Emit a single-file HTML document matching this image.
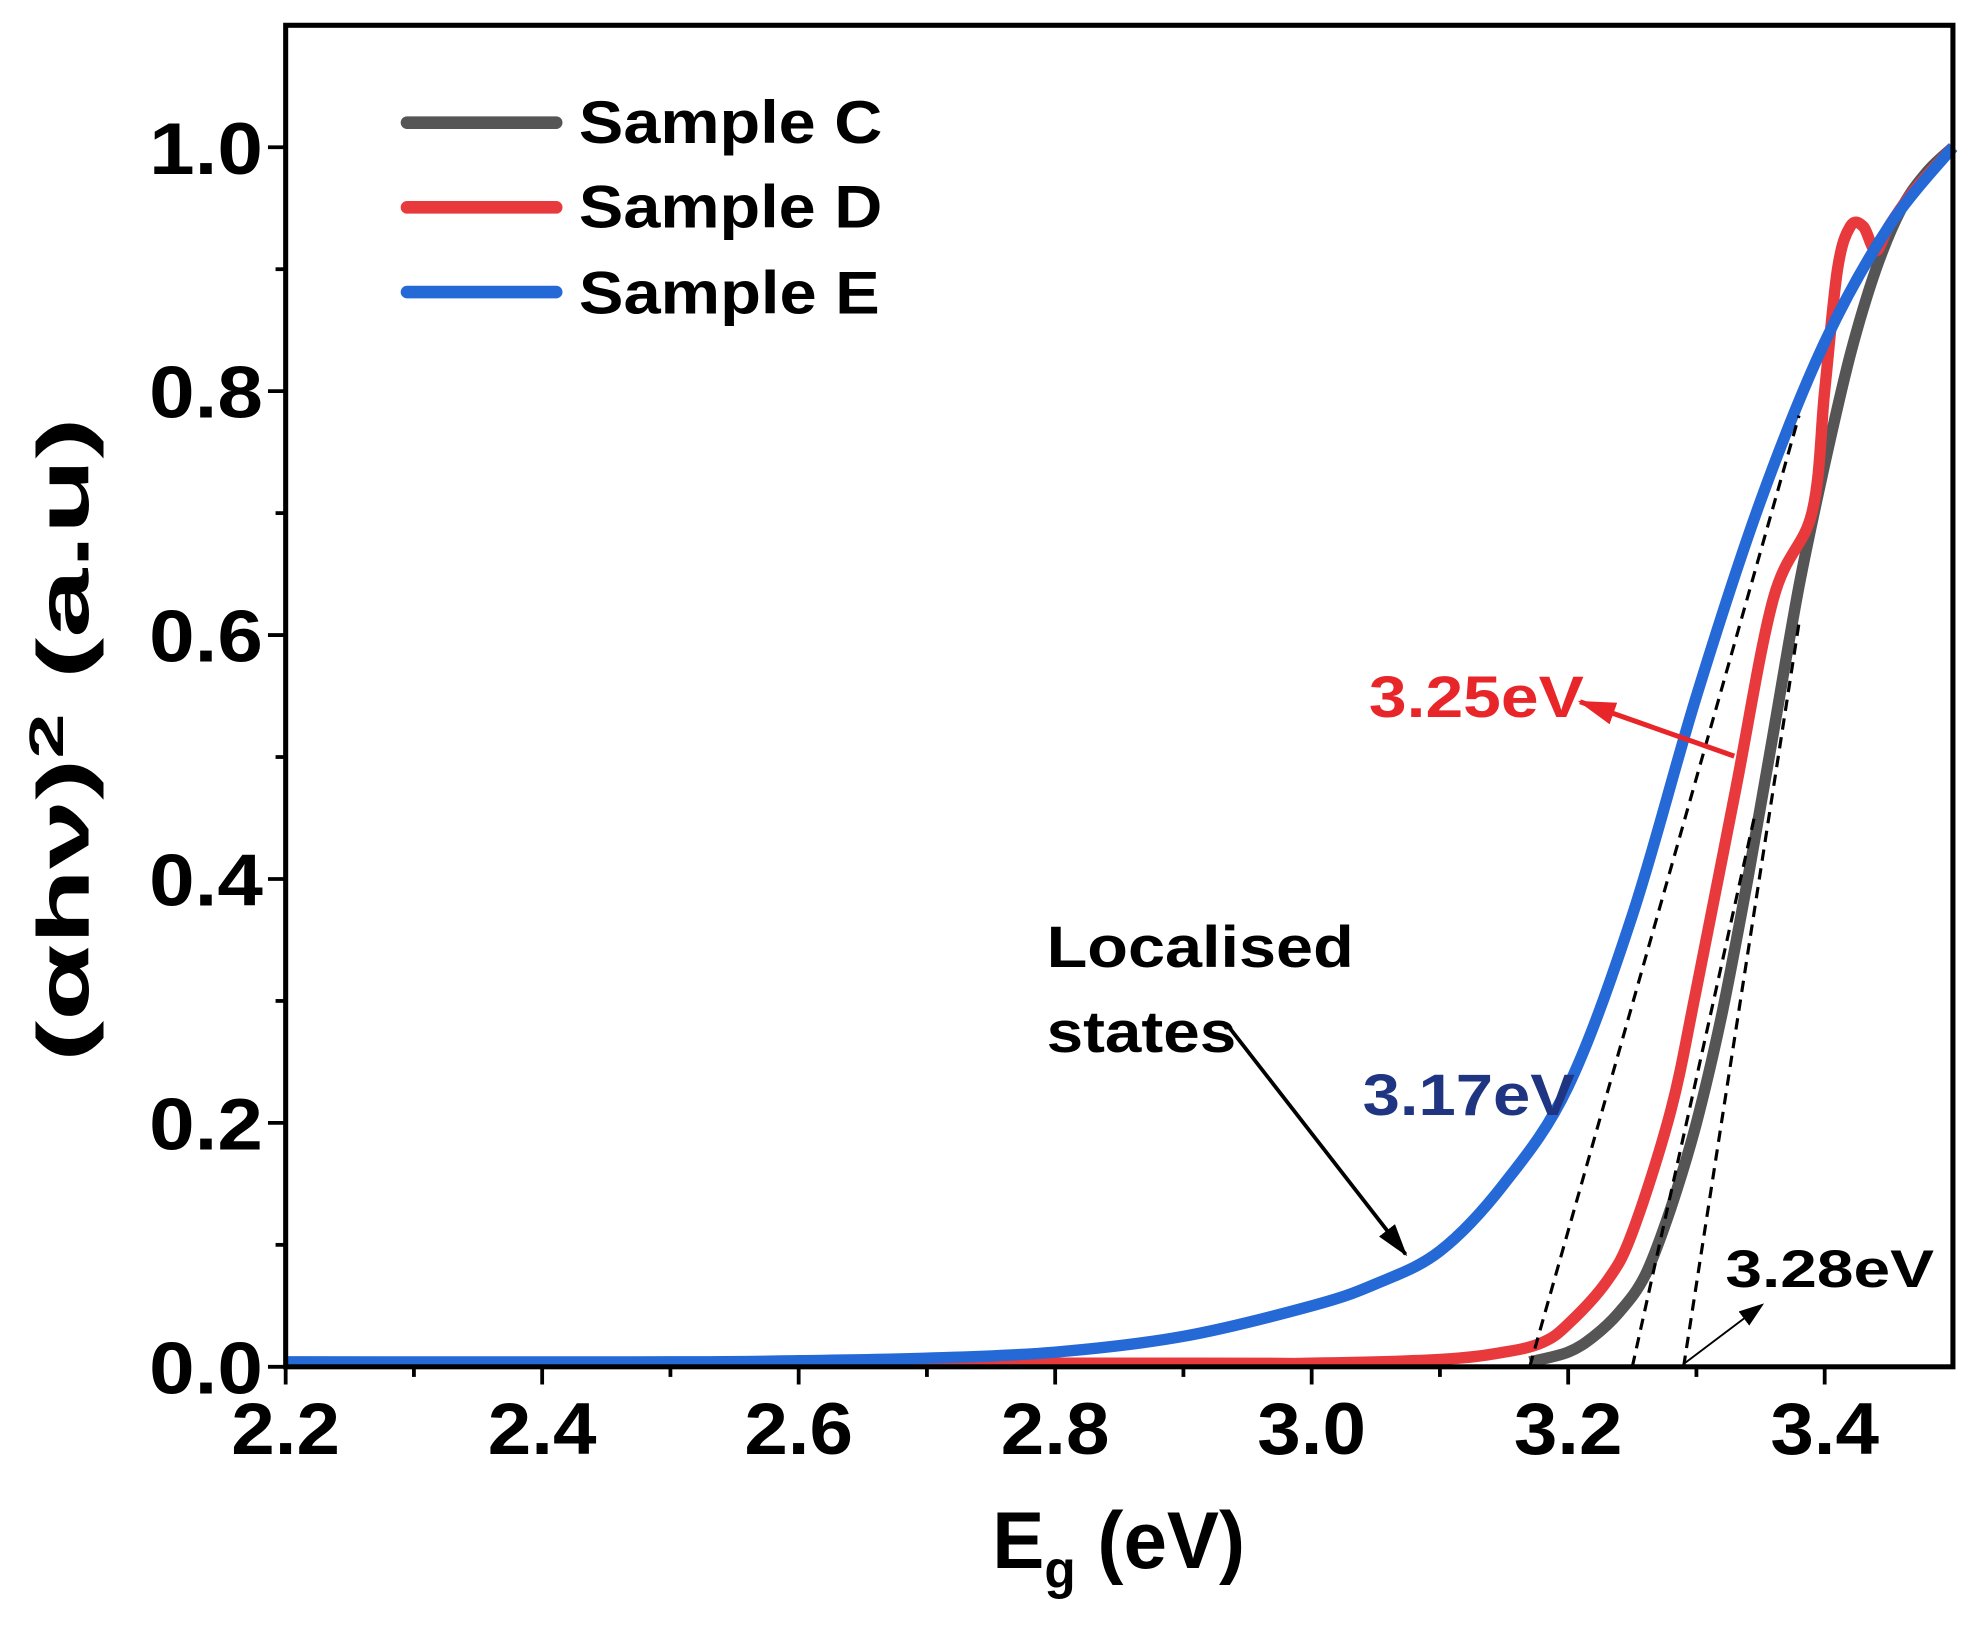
<!DOCTYPE html>
<html><head><meta charset="utf-8"><style>
html,body{margin:0;padding:0;background:#fff}
svg{display:block}
text{font-family:"Liberation Sans",Arial,sans-serif;font-weight:bold}
</style></head><body>
<svg id="chart" width="1982" height="1626" viewBox="0 0 1568 1286" preserveAspectRatio="none" xmlns="http://www.w3.org/2000/svg">
<defs>
<marker id="ahb" markerWidth="26" markerHeight="20" refX="24" refY="10" orient="auto" markerUnits="userSpaceOnUse"><path d="M0,2 L26,10 L0,18 z" fill="#000"/></marker>
<marker id="ahr" markerWidth="30" markerHeight="22" refX="28" refY="11" orient="auto" markerUnits="userSpaceOnUse"><path d="M0,2 L30,11 L0,20 z" fill="#e8262a"/></marker>
<marker id="ahs" markerWidth="20" markerHeight="16" refX="18" refY="8" orient="auto" markerUnits="userSpaceOnUse"><path d="M0,1 L20,8 L0,15 z" fill="#000"/></marker>
</defs>
<g id="plot"></g>
<g id="ann">
<rect x="226" y="20" width="1319" height="1061" fill="none" stroke="#000" stroke-width="4"/>
<line x1="322" y1="97" x2="440" y2="97" stroke="#555" stroke-width="10" stroke-linecap="round"/>
<text x="458" y="113" font-size="48" textLength="240" lengthAdjust="spacingAndGlyphs">Sample C</text>
<line x1="322" y1="164" x2="440" y2="164" stroke="#e8393d" stroke-width="10" stroke-linecap="round"/>
<text x="458" y="180" font-size="48" textLength="240" lengthAdjust="spacingAndGlyphs">Sample D</text>
<line x1="322" y1="231" x2="440" y2="231" stroke="#2469d6" stroke-width="10" stroke-linecap="round"/>
<text x="458" y="248" font-size="48" textLength="238" lengthAdjust="spacingAndGlyphs">Sample E</text>
<text x="828" y="765" font-size="46" textLength="243" lengthAdjust="spacingAndGlyphs">Localised</text>
<text x="828" y="832" font-size="46" textLength="150" lengthAdjust="spacingAndGlyphs">states</text>
<line x1="972" y1="812" x2="1112" y2="992" stroke="#000" stroke-width="3" marker-end="url(#ahb)"/>
<text x="1078" y="882" font-size="46" fill="#1f3582" textLength="168" lengthAdjust="spacingAndGlyphs">3.17eV</text>
<text x="1083" y="567" font-size="46" fill="#e8262a" textLength="170" lengthAdjust="spacingAndGlyphs">3.25eV</text>
<line x1="1372" y1="598" x2="1250" y2="555" stroke="#e8262a" stroke-width="4" marker-end="url(#ahr)"/>
<text x="1365" y="1018" font-size="42" textLength="165" lengthAdjust="spacingAndGlyphs">3.28eV</text>
<line x1="1333" y1="1078" x2="1394" y2="1032" stroke="#000" stroke-width="1.5" marker-end="url(#ahs)"/>
<text x="885" y="1240" font-size="64" text-anchor="middle" textLength="200" lengthAdjust="spacingAndGlyphs">E<tspan font-size="42" dy="16">g</tspan><tspan dy="-16"> (eV)</tspan></text>
<text transform="translate(70,585) rotate(-90)" font-size="58" text-anchor="middle" textLength="510" lengthAdjust="spacingAndGlyphs">(αhν)<tspan font-size="38" dy="-20">2</tspan><tspan dy="20"> (a.u)</tspan></text>
</g>
</svg>
<script>
const xTicks=[2.2,2.4,2.6,2.8,3.0,3.2,3.4];
const xTickLabels=["2.2","2.4","2.6","2.8","3.0","3.2","3.4"];
const yTicks=[0,0.2,0.4,0.6,0.8,1.0];
const yTickLabels=["0.0","0.2","0.4","0.6","0.8","1.0"];
const xE=[2.2,2.5,2.6,2.7,2.8,2.9,3.0,3.05,3.1,3.15,3.2,3.25,3.3,3.35,3.4,3.45,3.5];
const yE=[0.004,0.004,0.005,0.007,0.012,0.025,0.05,0.068,0.095,0.15,0.23,0.37,0.55,0.71,0.84,0.935,1.0];
const xD=[2.2,2.9,3.0,3.1,3.15,3.18,3.2,3.23,3.25,3.28,3.3,3.33,3.36,3.39,3.4,3.41,3.42,3.43,3.44,3.45,3.47,3.5];
const yD=[0.003,0.003,0.003,0.006,0.012,0.02,0.035,0.07,0.11,0.21,0.31,0.47,0.63,0.7,0.8,0.9,0.935,0.935,0.915,0.935,0.965,1.0];
const xC=[3.17,3.2,3.22,3.24,3.26,3.28,3.3,3.32,3.34,3.36,3.38,3.4,3.42,3.44,3.46,3.48,3.5];
const yC=[0.004,0.012,0.025,0.045,0.075,0.13,0.2,0.29,0.4,0.52,0.64,0.74,0.83,0.9,0.95,0.98,1.0];
const tangentE=[[3.17,0],[3.38,0.78]];
const tangentD=[[3.25,0],[3.345,0.45]];
const tangentC=[[3.29,0],[3.38,0.61]];
const L=226,R=1545,T=20,B=1081,X0=2.2,X1=3.5,Y0=0,Y1=1.1;
const sx=v=>L+(v-X0)/(X1-X0)*(R-L);
const sy=v=>B-(v-Y0)/(Y1-Y0)*(B-T);
const NS="http://www.w3.org/2000/svg";
const g=document.getElementById('plot');
function mk(t,a){const e=document.createElementNS(NS,t);for(const k in a)e.setAttribute(k,a[k]);g.appendChild(e);return e;}
for(let i=0;i<13;i++){const v=2.2+i*0.1;const major=i%2===0;
 const t=mk('line',{x1:sx(v),x2:sx(v),y1:B,y2:B+(major?14:8),stroke:'#000','stroke-width':3});
 
 }
xTicks.forEach((v,i)=>{const t=mk('text',{x:sx(v),y:1150,'font-size':58,'text-anchor':'middle',textLength:86,lengthAdjust:'spacingAndGlyphs'});t.textContent=xTickLabels[i];
 
 });
for(let i=0;i<=10;i++){const v=i*0.1;const major=i%2===0;
 const t=mk('line',{x1:L-(major?14:8),x2:L,y1:sy(v),y2:sy(v),stroke:'#000','stroke-width':3});
 
 }
yTicks.forEach((v,i)=>{const t=mk('text',{x:208,y:sy(v)+21,'font-size':58,'text-anchor':'end',textLength:90,lengthAdjust:'spacingAndGlyphs'});t.textContent=yTickLabels[i];
 
 });
function path(xs,ys){
 const p=xs.map((x,i)=>[sx(x),sy(ys[i])]);
 let d='M'+p[0][0].toFixed(1)+','+p[0][1].toFixed(1);
 for(let i=0;i<p.length-1;i++){
  const p0=p[Math.max(0,i-1)],p1=p[i],p2=p[i+1],p3=p[Math.min(p.length-1,i+2)];
  const c1=[p1[0]+(p2[0]-p0[0])/6,p1[1]+(p2[1]-p0[1])/6];
  const c2=[p2[0]-(p3[0]-p1[0])/6,p2[1]-(p3[1]-p1[1])/6];
  d+=' C'+c1[0].toFixed(1)+','+c1[1].toFixed(1)+' '+c2[0].toFixed(1)+','+c2[1].toFixed(1)+' '+p2[0].toFixed(1)+','+p2[1].toFixed(1);
 }
 return d;}
const pc=mk('path',{d:path(xC,yC),fill:'none',stroke:'#555','stroke-width':9,'stroke-linejoin':'round'});


const pd=mk('path',{d:path(xD,yD),fill:'none',stroke:'#e8393d','stroke-width':9,'stroke-linejoin':'round'});


const pe=mk('path',{d:path(xE,yE),fill:'none',stroke:'#2469d6','stroke-width':9,'stroke-linejoin':'round'});


[['tangent-e',tangentE],['tangent-d',tangentD],['tangent-c',tangentC]].forEach(([n,p])=>{
 const l=mk('line',{x1:sx(p[0][0]),y1:sy(p[0][1]),x2:sx(p[1][0]),y2:sy(p[1][1]),stroke:'#000','stroke-width':2.5,'stroke-dasharray':'9,6'});
 
 });
</script>
</body></html>
